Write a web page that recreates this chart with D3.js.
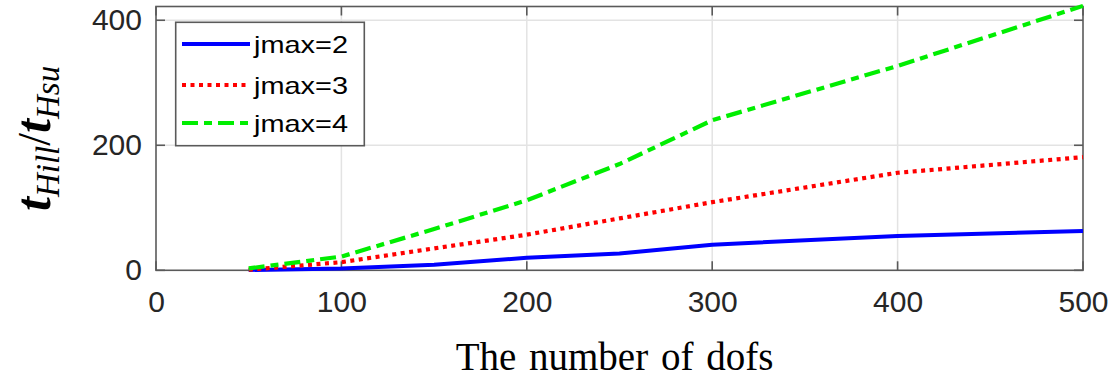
<!DOCTYPE html>
<html>
<head>
<meta charset="utf-8">
<script src="https://cdn.jsdelivr.net/npm/d3@7"></script>
<style>
  html, body { margin: 0; padding: 0; background: #fff; }
  svg { display: block; }
</style>
</head>
<body>
<svg id="chart" width="1120" height="379"></svg>
<script>
// Speed-up ratio t_Hill / t_Hsu versus the number of degrees of freedom
const dofs   = [50, 100, 150, 200, 250, 300, 400, 500];
const jmax2  = [0.5, 3, 9, 20, 27, 41, 55, 63];
const jmax3  = [1, 13, 35, 57, 83, 109, 156, 181];
const jmax4  = [3, 22, 66, 112, 170, 240, 327, 423];
const seriesNames = ["jmax=2", "jmax=3", "jmax=4"];
const xTicks = [0, 100, 200, 300, 400, 500];
const yTicks = [0, 200, 400];

const svg = d3.select("#chart");
const plotL = 156, plotR = 1083, plotT = 6.5, plotB = 270.3;

const x = d3.scaleLinear().domain([0, 500]).range([plotL, plotR]);
const y = d3.scaleLinear().domain([0, 422]).range([plotB, plotT]);

const axisColor = "#5a5a5a";
const tickFont = "'Liberation Sans', Arial, sans-serif";

// grid lines
const grid = svg.append("g");
grid.selectAll("line.gx").data(xTicks.slice(1, -1)).join("line")
  .attr("x1", d => x(d)).attr("x2", d => x(d))
  .attr("y1", plotT).attr("y2", plotB)
  .attr("stroke", "#e3e3e3").attr("stroke-width", 1.5);
grid.selectAll("line.gy").data(yTicks.slice(1)).join("line")
  .attr("x1", plotL).attr("x2", plotR)
  .attr("y1", d => y(d)).attr("y2", d => y(d))
  .attr("stroke", "#e3e3e3").attr("stroke-width", 1.5);

// series styles
const lineGen = vals => d3.line()
  .x((d, i) => x(dofs[i]))
  .y(d => y(d))(vals);

const styles = [
  { data: jmax2, color: "#0000ff", dash: null, width: 4 },
  { data: jmax3, color: "#ff0000", dash: "4,4.5", width: 4.2 },
  { data: jmax4, color: "#00ee00", dash: "16,6,8,6", width: 4.2 }
];

// axes box and inward ticks
const axes = svg.append("g");
axes.append("rect")
  .attr("x", plotL).attr("y", plotT)
  .attr("width", plotR - plotL).attr("height", plotB - plotT)
  .attr("fill", "none").attr("stroke", axisColor).attr("stroke-width", 1.6);

const tickLen = 9;
xTicks.forEach(t => {
  axes.append("line").attr("x1", x(t)).attr("x2", x(t))
    .attr("y1", plotB).attr("y2", plotB - tickLen)
    .attr("stroke", axisColor).attr("stroke-width", 1.6);
  axes.append("line").attr("x1", x(t)).attr("x2", x(t))
    .attr("y1", plotT).attr("y2", plotT + tickLen)
    .attr("stroke", axisColor).attr("stroke-width", 1.6);
});
yTicks.forEach(t => {
  axes.append("line").attr("x1", plotL).attr("x2", plotL + tickLen)
    .attr("y1", y(t)).attr("y2", y(t))
    .attr("stroke", axisColor).attr("stroke-width", 1.6);
  axes.append("line").attr("x1", plotR).attr("x2", plotR - tickLen)
    .attr("y1", y(t)).attr("y2", y(t))
    .attr("stroke", axisColor).attr("stroke-width", 1.6);
});

// tick labels via d3 axes
const xAxis = svg.append("g").attr("transform", `translate(0,${plotB})`)
  .call(d3.axisBottom(x).tickValues(xTicks).tickSize(0).tickPadding(20));
const yAxis = svg.append("g").attr("transform", `translate(${plotL},0)`)
  .call(d3.axisLeft(y).tickValues(yTicks).tickSize(0).tickPadding(14));
[xAxis, yAxis].forEach(g => {
  g.select(".domain").remove();
  g.selectAll("text")
    .attr("font-family", tickFont)
    .attr("font-size", 30)
    .attr("fill", "#262626");
});

// data lines
styles.forEach(s => {
  svg.append("path")
    .attr("d", lineGen(s.data))
    .attr("fill", "none")
    .attr("stroke", s.color)
    .attr("stroke-width", s.width)
    .attr("stroke-linejoin", "round")
    .attr("stroke-dasharray", s.dash);
});

// legend
const lg = svg.append("g");
lg.append("rect")
  .attr("x", 175.7).attr("y", 22.3)
  .attr("width", 188.6).attr("height", 123.4)
  .attr("fill", "#fff").attr("stroke", axisColor).attr("stroke-width", 1.6);
const rowY = [44, 85, 123];
styles.forEach((s, i) => {
  lg.append("line")
    .attr("x1", 182).attr("x2", 250)
    .attr("y1", rowY[i]).attr("y2", rowY[i])
    .attr("stroke", s.color).attr("stroke-width", s.width)
    .attr("stroke-dasharray", s.dash);
  lg.append("text")
    .attr("x", 254).attr("y", rowY[i] + 9)
    .attr("font-family", tickFont)
    .attr("font-size", 24)
    .attr("textLength", 94)
    .attr("lengthAdjust", "spacingAndGlyphs")
    .attr("fill", "#000")
    .text(seriesNames[i]);
});

// x label
svg.append("text")
  .attr("x", (plotL + plotR) / 2 - 5).attr("y", 370)
  .attr("text-anchor", "middle")
  .attr("font-family", "'Liberation Serif', 'Times New Roman', serif")
  .attr("font-size", 39)
  .attr("fill", "#000")
  .attr("word-spacing", 3)
  .text("The number of dofs");

// y label: t_Hill / t_Hsu
const yl = svg.append("text")
  .attr("transform", `translate(50,${(plotT + plotB) / 2}) rotate(-90)`)
  .attr("text-anchor", "middle")
  .attr("font-family", "'Liberation Serif', 'Times New Roman', serif")
  .attr("fill", "#000");
yl.append("tspan").attr("font-size", 50).attr("font-weight", "bold").attr("font-style", "italic").text("t");
yl.append("tspan").attr("font-size", 33).attr("font-style", "italic").attr("dy", 9).text("Hill");
yl.append("tspan").attr("font-size", 46).attr("dy", -9).text("/");
yl.append("tspan").attr("font-size", 50).attr("font-weight", "bold").attr("font-style", "italic").text("t");
yl.append("tspan").attr("font-size", 33).attr("font-style", "italic").attr("dy", 9).text("Hsu");
</script>
</body>
</html>
